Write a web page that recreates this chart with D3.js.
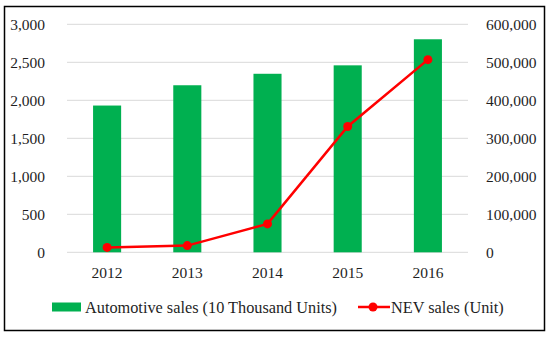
<!DOCTYPE html>
<html>
<head>
<meta charset="utf-8">
<style>
  body { margin: 0; background: #fff; }
  text { font-family: "Liberation Serif", serif; fill: #1f1f1f; }
</style>
</head>
<body>
<svg width="550" height="339"></svg>
<script src="https://cdnjs.cloudflare.com/ajax/libs/d3/7.8.5/d3.min.js"></script>
<script>
// data
var years = ["2012", "2013", "2014", "2015", "2016"];
var autoSales = [1931, 2198, 2349, 2460, 2803];       // 10 thousand units
var nevSales = [12791, 17642, 74763, 331092, 507000]; // units
var leftTicks = [0, 500, 1000, 1500, 2000, 2500, 3000];
var rightTicks = [0, 100000, 200000, 300000, 400000, 500000, 600000];

var svg = d3.select("svg");

// outer frame
svg.append("rect")
  .attr("x", 4.5).attr("y", 6.5)
  .attr("width", 540).attr("height", 324)
  .attr("fill", "none").attr("stroke", "#000").attr("stroke-width", 1.5);

var pLeft = 67, pRight = 468, pTop = 24.3, pBottom = 252.3;

var x = d3.scaleBand().domain(years).range([pLeft, pRight]).paddingInner(0.65).paddingOuter(0.325);
var xc = d3.scaleBand().domain(years).range([pLeft, pRight]);
var yL = d3.scaleLinear().domain([0, 3000]).range([pBottom, pTop]);
var yR = d3.scaleLinear().domain([0, 600000]).range([pBottom, pTop]);

var fmt = d3.format(",");

// gridlines
svg.append("g")
  .selectAll("line")
  .data(leftTicks)
  .enter().append("line")
    .attr("x1", pLeft).attr("x2", pRight)
    .attr("y1", function(d) { return yL(d); })
    .attr("y2", function(d) { return yL(d); })
    .attr("stroke", "#d9d9d9").attr("stroke-width", 1);

// left axis
var axL = svg.append("g").attr("transform", "translate(" + (pLeft - 19) + ",0)")
  .call(d3.axisLeft(yL).tickValues(leftTicks).tickFormat(fmt).tickSize(0));
axL.select(".domain").remove();

// right axis
var axR = svg.append("g").attr("transform", "translate(" + (pRight + 15) + ",0)")
  .call(d3.axisRight(yR).tickValues(rightTicks).tickFormat(fmt).tickSize(0));
axR.select(".domain").remove();

// bottom axis
var axB = svg.append("g").attr("transform", "translate(0," + (pBottom + 12) + ")")
  .call(d3.axisBottom(xc).tickSize(0));
axB.select(".domain").remove();

[axL, axR, axB].forEach(function(a) {
  a.attr("font-family", "Liberation Serif").attr("font-size", 15.5);
  a.selectAll("text").style("font-family", "'Liberation Serif', serif");
});

// bars
svg.append("g")
  .selectAll("rect")
  .data(autoSales)
  .enter().append("rect")
    .attr("x", function(d, i) { return x(years[i]); })
    .attr("y", function(d) { return yL(d); })
    .attr("width", x.bandwidth())
    .attr("height", function(d) { return pBottom - yL(d); })
    .attr("fill", "#00b050");

// NEV line
var line = d3.line()
  .x(function(d, i) { return xc(years[i]) + xc.bandwidth() / 2; })
  .y(function(d) { return yR(d); });

svg.append("path")
  .datum(nevSales)
  .attr("d", line)
  .attr("fill", "none").attr("stroke", "#ff0000").attr("stroke-width", 2.5);

svg.append("g")
  .selectAll("circle")
  .data(nevSales)
  .enter().append("circle")
    .attr("cx", function(d, i) { return xc(years[i]) + xc.bandwidth() / 2; })
    .attr("cy", function(d) { return yR(d); })
    .attr("r", 4.5)
    .attr("fill", "#ff0000");

// legend
var lg = svg.append("g");
lg.append("rect").attr("x", 52).attr("y", 302.5).attr("width", 29).attr("height", 9).attr("fill", "#00b050");
lg.append("text").attr("x", 85).attr("y", 312.5).attr("font-size", 16.3).text("Automotive sales (10 Thousand Units)");
lg.append("line").attr("x1", 358).attr("x2", 390).attr("y1", 307).attr("y2", 307)
  .attr("stroke", "#ff0000").attr("stroke-width", 2.5);
lg.append("circle").attr("cx", 373).attr("cy", 307).attr("r", 4.5).attr("fill", "#ff0000");
lg.append("text").attr("x", 391).attr("y", 312.5).attr("font-size", 16.3).text("NEV sales (Unit)");
</script>
</body>
</html>
